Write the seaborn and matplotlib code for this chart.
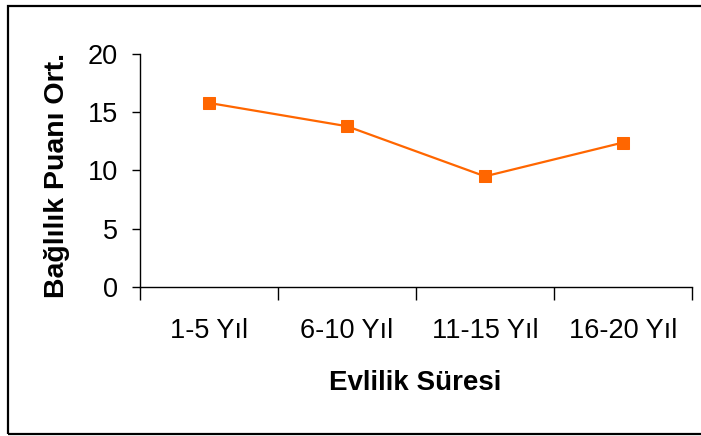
import matplotlib
matplotlib.use("Agg")
import matplotlib.pyplot as plt
import seaborn as sns
import pandas as pd
from matplotlib.patches import Rectangle
from matplotlib.ticker import FixedLocator

# data
sureler = ["1-5 Yıl", "6-10 Yıl", "11-15 Yıl", "16-20 Yıl"]
puanlar = [15.8, 13.8, 9.5, 12.4]
y_ticks = [0, 5, 10, 15, 20]

sns.set_style("white")
plt.rcParams["font.family"] = ["Liberation Sans", "DejaVu Sans"]
plt.rcParams["text.color"] = "black"
plt.rcParams["xtick.color"] = "black"
plt.rcParams["ytick.color"] = "black"

df = pd.DataFrame({"sure": sureler, "puan": puanlar})

fig = plt.figure(figsize=(7.01, 4.36), dpi=100)
ax = fig.add_axes([140 / 701, 1 - 287 / 436, 552 / 701, 233 / 436])

sns.lineplot(data=df, x="sure", y="puan", sort=False, marker="s",
             color="#FF6600", linewidth=1.6, markersize=8.5,
             markeredgecolor="#FF6600", ax=ax)

ax.set_ylim(0, 20)
ax.set_xlim(-0.5, len(sureler) - 0.5)
ax.set_yticks(y_ticks)
ax.set_xticks(range(len(sureler)))
ax.set_xticklabels(sureler)
ax.xaxis.set_minor_locator(FixedLocator([i - 0.5 for i in range(len(sureler) + 1)]))

ax.tick_params(axis="x", which="major", length=0, pad=22, labelsize=19.5,
               labelcolor="black")
ax.tick_params(axis="x", which="minor", length=9, width=1, color="black",
               direction="out", bottom=True)
ax.tick_params(axis="y", length=6, width=1, color="black", direction="out",
               pad=10, labelsize=19.5, left=True, labelcolor="black")

for side in ["top", "right"]:
    ax.spines[side].set_visible(False)
for side in ["left", "bottom"]:
    ax.spines[side].set_color("black")
    ax.spines[side].set_linewidth(1)

ax.set_xlabel("")
ax.set_ylabel("")
fig.text(415 / 701, 1 - 383 / 436, "Evlilik Süresi", ha="center", va="center",
         fontsize=20, fontweight="bold", color="black")
fig.text(57 / 701, 1 - 175 / 436, "Bağlılık Puanı Ort.", ha="center", va="center",
         rotation=90, fontsize=20.5, fontweight="bold", color="black")

# outer chart frame (right edge falls outside the image)
fig.patches.append(Rectangle((8 / 701, 2 / 436), 1.2, 428 / 436,
                             transform=fig.transFigure, fill=False,
                             edgecolor="black", linewidth=1.6))

fig.savefig("out.png", dpi=100)
